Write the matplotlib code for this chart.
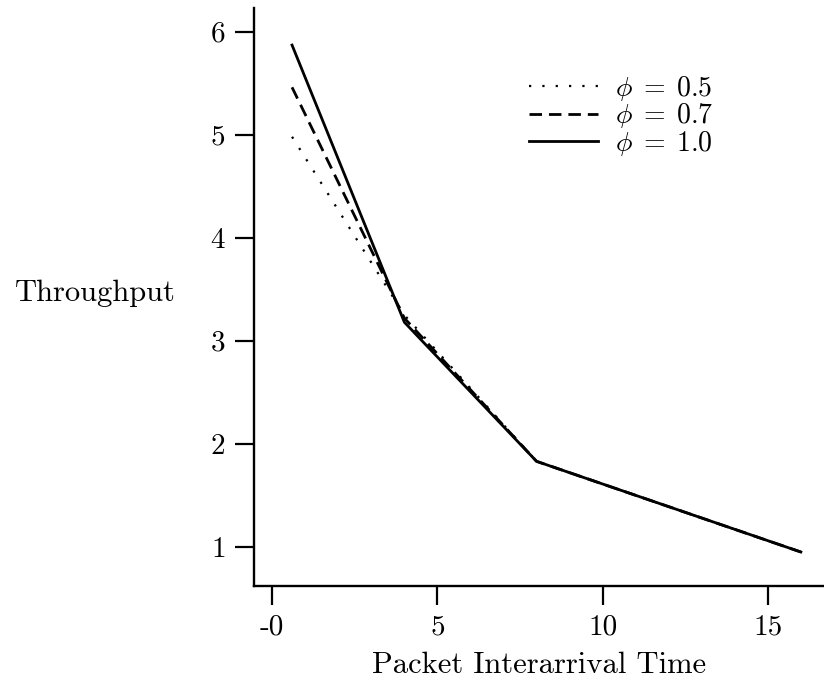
import matplotlib

matplotlib.use("Agg")
import matplotlib.pyplot as plt

# values
interarrival = [0.6, 4.0, 8.0, 16.0]
throughput_phi05 = [4.98, 3.25, 1.83, 0.95]
throughput_phi07 = [5.46, 3.22, 1.83, 0.95]
throughput_phi10 = [5.87, 3.18, 1.83, 0.95]
phi_labels = [r"$\phi\;=\;0.5$", r"$\phi\;=\;0.7$", r"$\phi\;=\;1.0$"]

x_ticks = [0, 5, 10, 15]
x_tick_labels = ["-0", "5", "10", "15"]
y_ticks = [1, 2, 3, 4, 5, 6]

plt.rcParams["font.family"] = ["cmr10", "DejaVu Serif"]
plt.rcParams["mathtext.fontset"] = "cm"
plt.rcParams["axes.formatter.use_mathtext"] = True

fig = plt.figure(figsize=(8.24, 6.81), dpi=100)
ax = fig.add_axes([0.3083, 0.1395, 0.6917, 0.8488])

ax.plot(interarrival, throughput_phi05, color="black", lw=1.6,
        linestyle=(0, (1, 5)), label=phi_labels[0])
ax.plot(interarrival, throughput_phi07, color="black", lw=2.0,
        linestyle=(0, (4.5, 2.5)), label=phi_labels[1])
ax.plot(interarrival, throughput_phi10, color="black", lw=2.0,
        linestyle="-", label=phi_labels[2])

ax.set_xlim(-0.55, 16.7)
ax.set_ylim(0.62, 6.23)

ax.spines["top"].set_visible(False)
ax.spines["right"].set_visible(False)
for side in ("left", "bottom"):
    ax.spines[side].set_linewidth(1.7)

ax.set_xticks(x_ticks)
ax.set_xticklabels(x_tick_labels)
ax.set_yticks(y_ticks)
ax.tick_params(direction="out", length=13.5, width=1.6, labelsize=21)
ax.tick_params(axis="x", pad=7)
ax.tick_params(axis="y", pad=7)

ax.set_xlabel("Packet Interarrival Time", fontsize=22, labelpad=8)
ax.set_ylabel("Throughput", fontsize=22, rotation=0, ha="center", va="center")
ax.yaxis.set_label_coords(-0.279, 0.507)

ax.legend(loc="upper left", bbox_to_anchor=(0.482, 0.886), frameon=False,
          fontsize=20, handlelength=2.5, handletextpad=0.6,
          labelspacing=-0.05, borderpad=0, borderaxespad=0)

fig.savefig("out.png", dpi=100)
